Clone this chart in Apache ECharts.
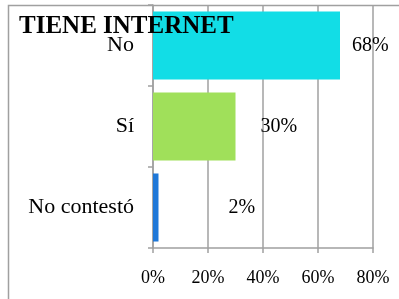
<!DOCTYPE html>
<html>
<head>
<meta charset="utf-8">
<script src="https://cdn.jsdelivr.net/npm/echarts@6/dist/echarts.min.js"></script>
<style>
  html, body { margin: 0; padding: 0; background: #fff; }
  #chart { width: 399px; height: 299px; }
</style>
</head>
<body>
<div id="chart"></div>
<script>
const categories = ["No", "Sí", "No contestó"];
const values = [68, 30, 2];
const barColors = ["#12DDE6", "#A0E05A", "#1F78D8"];
const xTicks = [0, 20, 40, 60, 80];
// hand-placed data labels in the original, distance from bar end
const labelGap = [12, 25, 70];

const chart = echarts.init(document.getElementById("chart"));
const serif = "'Liberation Serif', 'Times New Roman', serif";

chart.setOption({
  animation: false,
  backgroundColor: "#fff",
  title: {
    text: "TIENE INTERNET",
    left: 14,
    top: 9,
    textStyle: { fontFamily: serif, fontSize: 25, fontWeight: "bold", color: "#000" },
  },
  grid: { left: 153, right: 26, top: 5, bottom: 51 },
  xAxis: {
    type: "value",
    min: xTicks[0],
    max: xTicks[xTicks.length - 1],
    interval: 20,
    axisLine: { show: true, lineStyle: { color: "#A0A0A0", width: 1.5 } },
    axisTick: { show: true, length: 5, lineStyle: { color: "#A0A0A0", width: 1.5 } },
    splitLine: { show: true, lineStyle: { color: "#A0A0A0", width: 1.5 } },
    axisLabel: {
      formatter: "{value}%",
      margin: 21,
      fontFamily: serif,
      fontSize: 18,
      color: "#000",
    },
  },
  yAxis: {
    type: "category",
    data: categories,
    inverse: true,
    axisLine: { show: true, lineStyle: { color: "#A0A0A0", width: 1.5 } },
    axisTick: { show: true, length: 5, lineStyle: { color: "#A0A0A0", width: 1.5 } },
    axisLabel: {
      margin: 19,
      padding: [5, 0, 0, 0],
      fontFamily: serif,
      fontSize: 22,
      color: "#000",
    },
  },
  series: [
    {
      type: "bar",
      barCategoryGap: "16%",
      data: values.map((v, i) => ({
        value: v,
        itemStyle: { color: barColors[i] },
        label: { distance: labelGap[i] },
      })),
      label: {
        show: true,
        position: "right",
        formatter: "{c}%",
        fontFamily: serif,
        fontSize: 20,
        color: "#000",
      },
    },
  ],
  graphic: [
    {
      type: "polyline",
      shape: { points: [[8.5, 299], [8.5, 5.5], [399, 5.5]] },
      style: { stroke: "#A0A0A0", lineWidth: 1.5, fill: null },
      z: 10,
    },
  ],
});
</script>
</body>
</html>
